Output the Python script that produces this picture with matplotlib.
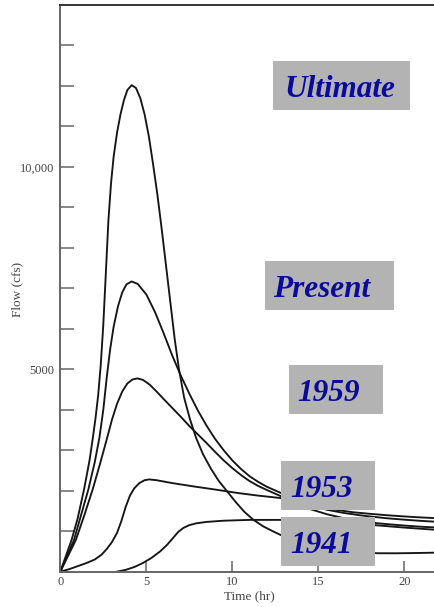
import matplotlib
matplotlib.use("Agg")
import matplotlib.pyplot as plt
from matplotlib.patches import Rectangle
from matplotlib.ticker import FixedLocator, FuncFormatter

# ---- data (time in hr, flow in cfs) ----
t_ultimate = [0, 0.66, 1.0, 1.38, 1.7, 1.88, 2.05, 2.2, 2.35, 2.5, 2.65, 2.8, 2.95, 3.1, 3.3,
              3.5, 3.7, 3.9, 4.15, 4.4, 4.65, 4.9, 5.15, 5.4, 5.65, 5.9, 6.15, 6.4, 6.65, 6.9,
              7.2, 7.54, 7.9, 8.3, 8.75, 9.2, 9.67, 10.2, 10.7, 11.2, 11.8, 12.4, 13.0, 13.7,
              14.5, 15.5, 16.5, 17.5, 18.5, 19.5, 20.5, 21.5, 22.0]
q_ultimate = [0, 790, 1300, 2030, 2750, 3270, 3800, 4350, 5100, 6100, 7400, 8700, 9600, 10250,
              10850, 11300, 11650, 11900, 12020, 11950, 11700, 11300, 10750, 10050, 9300, 8450,
              7550, 6650, 5750, 5000, 4300, 3765, 3300, 2900, 2550, 2250, 2000, 1720, 1480,
              1290, 1120, 990, 870, 760, 660, 570, 505, 470, 456, 455, 460, 468, 472]

t_present = [0, 0.8, 1.63, 2.0, 2.27, 2.5, 2.7, 2.9, 3.1, 3.35, 3.6, 3.85, 4.15, 4.5, 5.0, 5.5,
             6.0, 6.5, 7.0, 7.5, 8.0, 8.5, 9.0, 9.5, 10.0, 10.5, 11.0, 11.5, 12.0, 12.8, 13.5,
             14.5, 15.5, 16.5, 17.5, 18.0, 19.0, 20.0, 21.0, 22.0]
q_present = [0, 790, 2030, 2700, 3300, 4000, 4800, 5500, 6050, 6550, 6900, 7100, 7170, 7110,
             6850, 6420, 5900, 5350, 4850, 4400, 3980, 3610, 3280, 3000, 2750, 2540, 2360,
             2220, 2100, 1950, 1810, 1650, 1530, 1450, 1390, 1365, 1320, 1285, 1255, 1230]

t_1959 = [0, 0.91, 1.4, 1.88, 2.3, 2.7, 3.0, 3.3, 3.6, 3.9, 4.2, 4.48, 4.8, 5.2, 5.6, 6.0, 6.5,
          7.0, 7.5, 8.0, 8.5, 9.0, 9.5, 10.0, 10.5, 11.0, 11.5, 12.0, 12.8, 13.5, 14.5, 15.5,
          16.5, 17.5, 18.0, 19.0, 20.0, 21.0, 22.0]
q_1959 = [0, 790, 1400, 2030, 2650, 3270, 3750, 4150, 4450, 4650, 4750, 4775, 4740, 4620, 4450,
          4270, 4050, 3830, 3600, 3390, 3180, 2960, 2750, 2560, 2390, 2240, 2120, 2020, 1870,
          1720, 1550, 1420, 1320, 1250, 1215, 1175, 1140, 1110, 1090]

t_1953 = [0, 0.5, 1.0, 1.5, 2.0, 2.4, 2.7, 3.0, 3.3, 3.55, 3.8, 4.05, 4.3, 4.6, 4.9, 5.17, 5.6,
          6.5, 7.7, 9.0, 10.3, 11.5, 12.8, 14.0, 15.0, 16.0, 17.0, 18.0, 19.0, 20.0, 21.0, 22.0]
q_1953 = [0, 60, 135, 210, 300, 420, 560, 730, 960, 1250, 1600, 1880, 2060, 2190, 2260, 2280,
          2260, 2190, 2110, 2030, 1945, 1880, 1820, 1680, 1590, 1530, 1470, 1430, 1395, 1365,
          1340, 1320]

t_1941 = [3.28, 3.8, 4.3, 4.8, 5.3, 5.8, 6.2, 6.55, 6.85, 7.15, 7.5, 7.9, 8.5, 9.5, 11.0, 12.8,
          14.0, 15.0, 16.0, 17.0, 18.0, 19.0, 20.0, 21.0, 22.0]
q_1941 = [0, 45, 115, 215, 340, 500, 660, 830, 980, 1080, 1150, 1195, 1230, 1260, 1280, 1280,
          1260, 1240, 1215, 1185, 1160, 1125, 1090, 1060, 1030]

x_ticks = [0, 5, 10, 15, 20]
x_tick_labels = ["0", "5", "10", "15", "20"]
y_ticks = [0, 1000, 2000, 3000, 4000, 5000, 6000, 7000, 8000, 9000, 10000, 11000, 12000, 13000]
y_labels = {5000: "5000", 10000: "10,000"}
box_labels = ["Ultimate", "Present", "1959", "1953", "1941"]

# ---- figure ----
W, H = 434, 607
fig = plt.figure(figsize=(W / 100, H / 100), dpi=100)
serif = ["Liberation Serif", "DejaVu Serif"]

def fx(px):
    return px / W

def fy(py):
    return 1 - py / H

x0, x1 = 60.3, 60.3 + 22 * 17.2
y0, y1 = 571.7, 5.0
ax = fig.add_axes([fx(x0), fy(y0), fx(x1) - fx(x0), fy(y1) - fy(y0)])
ax.set_xlim(0, 22)
ax.set_ylim(0, 14000)

line_kw = dict(color="#151515", lw=1.35, solid_capstyle="round", solid_joinstyle="round")
ax.plot(t_ultimate, q_ultimate, **line_kw)
ax.plot(t_present, q_present, **line_kw)
ax.plot(t_1959, q_1959, **line_kw)
ax.plot(t_1953, q_1953, **line_kw)
ax.plot(t_1941, q_1941, **line_kw)

for s in ["left", "bottom"]:
    ax.spines[s].set_color("#666666")
    ax.spines[s].set_linewidth(1.4)
ax.spines["top"].set_color("#333333")
ax.spines["top"].set_linewidth(1.4)
ax.spines["right"].set_visible(False)

ax.xaxis.set_major_locator(FixedLocator(x_ticks))
ax.set_xticklabels(x_tick_labels)
ax.yaxis.set_major_locator(FixedLocator(y_ticks))
ax.yaxis.set_major_formatter(FuncFormatter(lambda v, p: y_labels.get(int(round(v)), "")))
ax.tick_params(axis="both", direction="in", colors="#666666", width=1.1,
               labelcolor="#444444", labelsize=9)
ax.tick_params(axis="x", length=8, pad=3)
ax.tick_params(axis="y", length=10, pad=4)
for lab in ax.get_xticklabels() + ax.get_yticklabels():
    lab.set_family(serif)

ax.set_xlabel("Time (hr)", family=serif, fontsize=9.5, color="#444444", labelpad=2)
fig.text(fx(17), fy(289), "Flow (cfs)", family=serif, fontsize=9.5, color="#444444",
         rotation=90, ha="center", va="center")

# ---- grey label boxes ----
boxes = [  # (left, top, right, bottom) px, text x, baseline y
    (273, 61, 410, 110, 284, 96.7),
    (265, 261, 394, 310, 273, 296.7),
    (289, 365, 383, 414, 297, 400.7),
    (281, 461, 375, 510, 290, 496.7),
    (281, 517, 375, 566, 290, 553.3),
]
for label, (l, t, r, b, tx, ty) in zip(box_labels, boxes):
    fig.patches.append(Rectangle((fx(l), fy(b)), fx(r) - fx(l), fy(t) - fy(b),
                                 transform=fig.transFigure, facecolor="#b3b3b3",
                                 edgecolor="none", zorder=5))
    fig.text(fx(tx), fy(ty), label, family=serif, fontsize=22.5, fontweight="bold",
             fontstyle="italic", color="#0b0b9a", ha="left", va="baseline", zorder=6)

fig.savefig("out.png", dpi=100)
